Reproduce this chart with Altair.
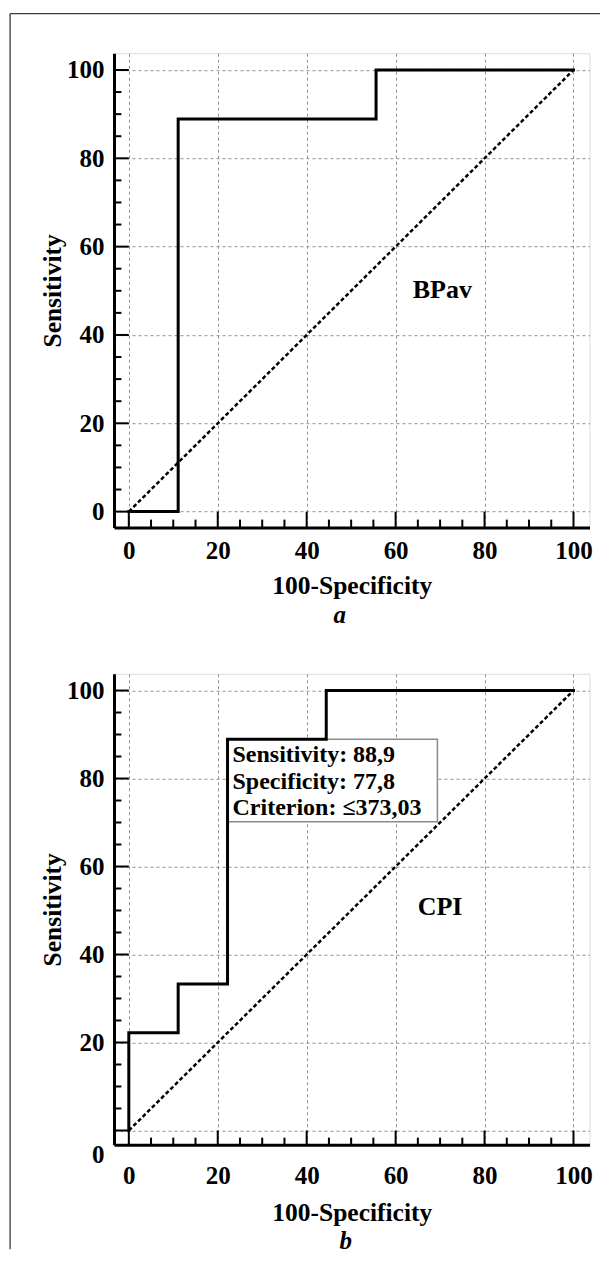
import altair as alt
import pandas as pd

# ---------------- data ----------------
a_fpr = [0, 11.1, 55.6, 100]
a_sens = [0, 88.9, 100, 100]
b_fpr = [0, 0, 11.1, 22.2, 44.4, 100]
b_sens = [0, 22.2, 33.3, 88.9, 100, 100]
diag_x = [0, 100]
diag_y = [0, 100]
major_ticks = [0, 20, 40, 60, 80, 100]
minor_ticks = [v for v in range(5, 100, 5) if v % 20 != 0]
name_a, name_a_x, name_a_y = "BPav", 70.5, 50.2
name_b, name_b_x, name_b_y = "CPI", 70.0, 50.7
cut_x, cut_y = 22.2, 88.9          # cut-off point (box corner)
box_x2, box_y2 = 69.4, 70.2        # opposite corner of the info box
box_lines = ["Sensitivity: 88,9", "Specificity: 77,8", "Criterion: \u2264373,03"]
x_title = "100-Specificity"
y_title = "Sensitivity"

# ---------------- layout ----------------
FONT = "Liberation Serif"
W = 475.5
HA, HB = 474.4, 471.0
XDOM = [-3.33, 103.6]
YDOM_A = [-3.62, 103.8]
YDOM_B = [-3.25, 103.8]
FS = 25


def x_axis(label_pad, title_y):
    return alt.Axis(values=major_ticks, grid=True, gridDash=[3, 3], gridColor="#909090",
                    gridWidth=1, ticks=False, tickSize=0, domainColor="black", domainWidth=3,
                    labelFont=FONT, labelFontSize=FS, labelFontWeight="bold", labelColor="black",
                    labelPadding=label_pad, labelFlush=False, labelOverlap=False,
                    title=x_title, titleFont=FONT, titleFontSize=25.5, titleFontWeight="bold",
                    titleColor="black", titleY=title_y, titleX=W / 2, titleBaseline="alphabetic",
                    titleAlign="center")


def y_axis(h, zero_off):
    return alt.Axis(values=major_ticks, grid=True, gridDash=[3, 3], gridColor="#909090",
                    gridWidth=1, ticks=False, tickSize=0, domainColor="black", domainWidth=3,
                    labelFont=FONT, labelFontSize=FS, labelFontWeight="bold", labelColor="black",
                    labelPadding=10, labelFlush=False, labelOverlap=False,
                    labelOffset={"condition": {"test": "datum.value === 0", "value": zero_off}, "value": 0},
                    title=y_title, titleFont=FONT, titleFontSize=25.5, titleFontWeight="bold",
                    titleColor="black", titleX=-54, titleY=h / 2, titleAngle=270,
                    titleBaseline="alphabetic", titleAlign="center")


def panel(fx, fy, ydom, h, name, nx, ny, letter, lx, ly, lab_pad, title_y, zero_off, box=False, border=False):
    xs = alt.Scale(domain=XDOM, nice=False, zero=False)
    ys = alt.Scale(domain=ydom, nice=False, zero=False)
    xa = x_axis(lab_pad, title_y)
    ya = y_axis(h, zero_off)

    def X(f="x"):
        return alt.X(f"{f}:Q", scale=xs, axis=xa)

    def Y(f="y"):
        return alt.Y(f"{f}:Q", scale=ys, axis=ya)

    layers = []
    # info box (under the curve)
    if box:
        bdf = pd.DataFrame({"x": [cut_x], "x2": [box_x2], "y": [cut_y], "y2": [box_y2]})
        layers.append(alt.Chart(bdf).mark_rect(fill="white", stroke="#8a8a8a", strokeWidth=1.5)
                      .encode(x=X(), x2="x2:Q", y=Y(), y2="y2:Q"))

    # tick marks drawn inward
    yt = pd.DataFrame({"y": major_ticks + minor_ticks,
                       "x": [XDOM[0]] * (len(major_ticks) + len(minor_ticks)),
                       "x2": [0.0] * len(major_ticks) + [XDOM[0] / 2] * len(minor_ticks)})
    xt = pd.DataFrame({"x": major_ticks + minor_ticks,
                       "y": [ydom[0]] * (len(major_ticks) + len(minor_ticks)),
                       "y2": [0.0] * len(major_ticks) + [ydom[0] / 2] * len(minor_ticks)})
    layers.append(alt.Chart(yt).mark_rule(color="black", strokeWidth=2)
                  .encode(x=X(), x2="x2:Q", y=Y()))
    layers.append(alt.Chart(xt).mark_rule(color="black", strokeWidth=2)
                  .encode(x=X(), y=Y(), y2="y2:Q"))

    # diagonal
    ddf = pd.DataFrame({"x": diag_x, "y": diag_y})
    layers.append(alt.Chart(ddf).mark_line(color="black", strokeWidth=2.5, strokeDash=[4, 2.5])
                  .encode(x=X(), y=Y()))

    # ROC step curve
    rdf = pd.DataFrame({"x": fx, "y": fy, "o": list(range(len(fx)))})
    layers.append(alt.Chart(rdf).mark_line(color="black", strokeWidth=3, interpolate="step-after",
                                           strokeJoin="miter", strokeCap="square")
                  .encode(x=X(), y=Y(), order="o:Q"))

    if box:
        tdf = pd.DataFrame({"x": [cut_x], "y": [cut_y]})
        layers.append(alt.Chart(tdf).mark_text(text=box_lines, align="left", baseline="top",
                                               dx=5, dy=3.5, lineHeight=26.7, font=FONT, fontSize=24,
                                               fontWeight="bold", color="black")
                      .encode(x=X(), y=Y()))

    # name label
    ndf = pd.DataFrame({"x": [nx], "y": [ny], "t": [name]})
    layers.append(alt.Chart(ndf).mark_text(font=FONT, fontSize=26, fontWeight="bold", color="black",
                                           baseline="middle", align="center")
                  .encode(x=X(), y=Y(), text="t:N"))

    # panel letter
    layers.append(alt.Chart(pd.DataFrame({"t": [letter]})).mark_text(
        font=FONT, fontSize=25, fontWeight="bold", fontStyle="italic", color="black",
        baseline="alphabetic", align="center")
        .encode(x=alt.value(lx), y=alt.value(ly), text="t:N"))

    if border:
        layers.append(alt.Chart(pd.DataFrame({"a": [0]})).mark_rule(color="#3a3a3a", strokeWidth=1.3)
                      .encode(x=alt.value(-103.9), y=alt.value(-39.6), y2=alt.value(1196.0)))
        layers.append(alt.Chart(pd.DataFrame({"a": [0]})).mark_rule(color="#3a3a3a", strokeWidth=1.3)
                      .encode(x=alt.value(-103.9), x2=alt.value(486.0), y=alt.value(-39.6)))

    return alt.layer(*layers).properties(width=W, height=h)


pa = panel(a_fpr, a_sens, YDOM_A, HA, name_a, name_a_x, name_a_y, "a", 225.8, 569.7,
           10.5, 65.5, 0, box=False, border=True)
pb = panel(b_fpr, b_sens, YDOM_B, HB, name_b, name_b_x, name_b_y, "b", 231.8, 575.7,
           19, 75.9, 24, box=True, border=False)

chart = alt.vconcat(pa, pb, spacing=145.6, bounds="flush").properties(
    padding={"left": 0, "top": 4.2, "right": 0, "bottom": 0}
).configure_view(stroke=None).configure(font=FONT, background="white")

chart.save("out.html", embed_options={"renderer": "svg", "actions": False})
